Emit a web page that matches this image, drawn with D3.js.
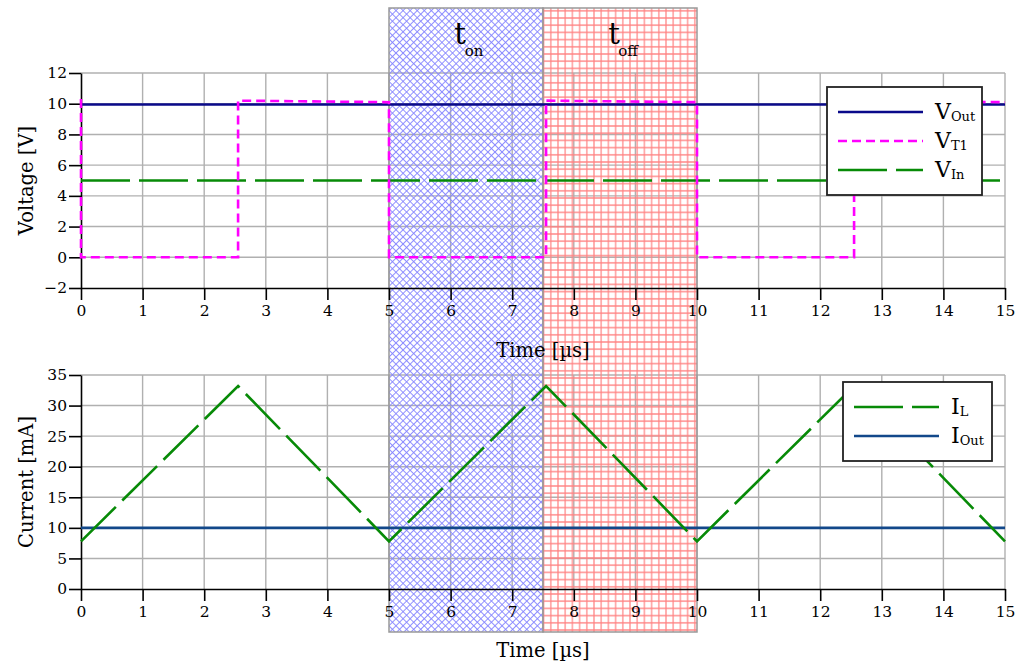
<!DOCTYPE html>
<html>
<head>
<meta charset="utf-8">
<script src="https://cdn.jsdelivr.net/npm/d3@7"></script>
<style>
  body { margin: 0; background: #fff; }
  svg { display: block; }
  text { font-family: "DejaVu Serif", "Liberation Serif", serif; fill: #000; }
</style>
</head>
<body>
<svg id="chart" width="1015" height="663"></svg>
<script>
// ---- data ----
const timeTicks = d3.range(0, 16);
const voltTicks = [-2, 0, 2, 4, 6, 8, 10, 12];
const currTicks = [0, 5, 10, 15, 20, 25, 30, 35];

// converter voltages [V] over time [µs]
const vOutTime = [0, 15];
const vOutVals = [9.95, 9.95];
const vT1Time = [0, 0, 2.55, 2.55, 5.0, 5.0, 7.55, 7.55, 10.0, 10.0, 12.55, 12.55, 15];
const vT1Vals = [10.3, 0, 0, 10.2, 10.1, 0, 0, 10.2, 10.1, 0, 0, 10.2, 10.1];
const vInTime = [0, 15];
const vInVals = [5, 5];

// currents [mA] over time [µs]
const iLTime = [0, 2.55, 5.0, 7.55, 10.0, 12.55, 15];
const iLVals = [7.8, 33.2, 7.8, 33.2, 7.8, 33.2, 7.8];
const iOutTime = [0, 15];
const iOutVals = [10, 10];

// switching phases [µs]
const phaseNames = ["on", "off"];
const phaseStart = [5, 7.5];
const phaseEnd = [7.5, 10];

// ---- layout ----
const svg = d3.select("#chart");
const left = 81, right = 1005;
const top1 = 73, bot1 = 288;
const top2 = 375, bot2 = 589;
const bandTop = 8, bandBot = 632;

const x = d3.scaleLinear().domain([0, 15]).range([left, right]);
const yV = d3.scaleLinear().domain([-2, 12]).range([bot1, top1]);
const yI = d3.scaleLinear().domain([0, 35]).range([bot2, top2]);

const colNavy = "#0a0a8a";
const colMag = "#ff00ff";
const colGreen = "#078a07";
const colSteel = "#12488a";
const longDash = "49,9";
const shortDash = "9,5";

// ---- patterns ----
const defs = svg.append("defs");
const s1 = 5.0;
const hatchOn = defs.append("pattern")
  .attr("id", "hatch-on").attr("patternUnits", "userSpaceOnUse")
  .attr("width", s1).attr("height", s1)
  .attr("patternTransform", "rotate(45)");
hatchOn.append("path")
  .attr("d", `M${s1/2},0V${s1}M0,${s1/2}H${s1}`)
  .attr("stroke", "#8585ff").attr("stroke-width", 0.9).attr("fill", "none");

const s2 = 7.2;
const hatchOff = defs.append("pattern")
  .attr("id", "hatch-off").attr("patternUnits", "userSpaceOnUse")
  .attr("width", s2).attr("height", s2);
hatchOff.append("path")
  .attr("d", `M${s2/2},0V${s2}M0,${s2/2}H${s2}`)
  .attr("stroke", "#ff8282").attr("stroke-width", 1.2).attr("fill", "none");

// ---- grids ----
function grid(yScale, ticks, yTop, yBot) {
  const g = svg.append("g").attr("stroke", "#b0b0b0").attr("stroke-width", 1.4);
  g.selectAll("line.h").data(ticks.filter((d, i) => i > 0)).join("line")
    .attr("x1", left).attr("x2", right)
    .attr("y1", d => yScale(d)).attr("y2", d => yScale(d));
  g.selectAll("line.v").data(timeTicks.filter(d => d > 0)).join("line")
    .attr("x1", d => x(d)).attr("x2", d => x(d))
    .attr("y1", yTop).attr("y2", yBot);
}
grid(yV, voltTicks, top1, bot1);
grid(yI, currTicks, top2, bot2);

// ---- switching phase bands ----
const bands = svg.append("g");
phaseNames.forEach((n, i) => {
  bands.append("rect")
    .attr("x", x(phaseStart[i])).attr("y", bandTop)
    .attr("width", x(phaseEnd[i]) - x(phaseStart[i]))
    .attr("height", bandBot - bandTop)
    .attr("fill", i === 0 ? "url(#hatch-on)" : "url(#hatch-off)")
    .attr("stroke", "#999").attr("stroke-width", 1.5);
});

// ---- axes ----
function axes(yScale, ticks, yBot) {
  const ax = svg.append("g").attr("transform", `translate(0,${yBot})`)
    .call(d3.axisBottom(x).tickValues(timeTicks).tickSize(12).tickPadding(5).tickSizeOuter(0));
  const ay = svg.append("g").attr("transform", `translate(${left},0)`)
    .call(d3.axisLeft(yScale).tickValues(ticks).tickSize(12).tickPadding(2).tickSizeOuter(0));
  [ax, ay].forEach(a => {
    a.select(".domain").attr("stroke", "#000").attr("stroke-width", 1.6);
    a.selectAll(".tick line").attr("stroke", "#000").attr("stroke-width", 1.6);
    a.selectAll(".tick text").attr("font-size", 15.5)
      .attr("font-family", "DejaVu Serif, serif").attr("fill", "#000");
  });
}
axes(yV, voltTicks, bot1);
axes(yI, currTicks, bot2);

// ---- series ----
function series(ts, vs, yScale, color, dash) {
  const pts = ts.map((t, i) => [t, vs[i]]);
  svg.append("path")
    .attr("d", d3.line().x(d => x(d[0])).y(d => yScale(d[1]))(pts))
    .attr("fill", "none").attr("stroke", color).attr("stroke-width", 2.6)
    .attr("stroke-dasharray", dash || null);
}
series(vInTime, vInVals, yV, colGreen, longDash);
series(vOutTime, vOutVals, yV, colNavy);
series(vT1Time, vT1Vals, yV, colMag, shortDash);
series(iOutTime, iOutVals, yI, colSteel);
series(iLTime, iLVals, yI, colGreen, longDash);

// ---- axis titles ----
svg.append("text").attr("x", (left + right) / 2).attr("y", 357)
  .attr("text-anchor", "middle").attr("font-size", 19.5).text("Time [µs]");
svg.append("text").attr("x", (left + right) / 2).attr("y", 657)
  .attr("text-anchor", "middle").attr("font-size", 19.5).text("Time [µs]");
svg.append("text").attr("transform", `translate(33,${(top1 + bot1) / 2}) rotate(-90)`)
  .attr("text-anchor", "middle").attr("font-size", 19.5).text("Voltage [V]");
svg.append("text").attr("transform", `translate(33,${(top2 + bot2) / 2}) rotate(-90)`)
  .attr("text-anchor", "middle").attr("font-size", 19.5).text("Current [mA]");

// ---- phase labels ----
phaseNames.forEach((n, i) => {
  const cx = (x(phaseStart[i]) + x(phaseEnd[i])) / 2;
  svg.append("text").attr("x", cx - 6).attr("y", 44)
    .attr("text-anchor", "middle").attr("font-size", 29).text("t");
  svg.append("text").attr("x", cx + 8).attr("y", 56)
    .attr("text-anchor", "middle").attr("font-size", 15).text(n);
});

// ---- legends ----
function legend(bx, by, bw, bh, items) {
  const g = svg.append("g");
  g.append("rect").attr("x", bx).attr("y", by).attr("width", bw).attr("height", bh)
    .attr("fill", "#fff").attr("stroke", "#222").attr("stroke-width", 1.8);
  items.forEach((it, i) => {
    const yy = by + 25 + i * 29;
    g.append("line").attr("x1", bx + 11).attr("x2", bx + 96)
      .attr("y1", yy).attr("y2", yy)
      .attr("stroke", it.color).attr("stroke-width", 2.6)
      .attr("stroke-dasharray", it.dash || null);
    const t = g.append("text").attr("x", bx + 108).attr("y", yy + 7).attr("font-size", 22);
    t.append("tspan").text(it.main);
    t.append("tspan").attr("font-size", 13).attr("dy", 2).text(it.sub);
  });
}
legend(827, 87, 155, 108, [
  { main: "V", sub: "Out", color: colNavy },
  { main: "V", sub: "T1", color: colMag, dash: shortDash },
  { main: "V", sub: "In", color: colGreen, dash: longDash }
]);
legend(843, 382, 149, 79, [
  { main: "I", sub: "L", color: colGreen, dash: longDash },
  { main: "I", sub: "Out", color: colSteel }
]);
</script>
</body>
</html>
